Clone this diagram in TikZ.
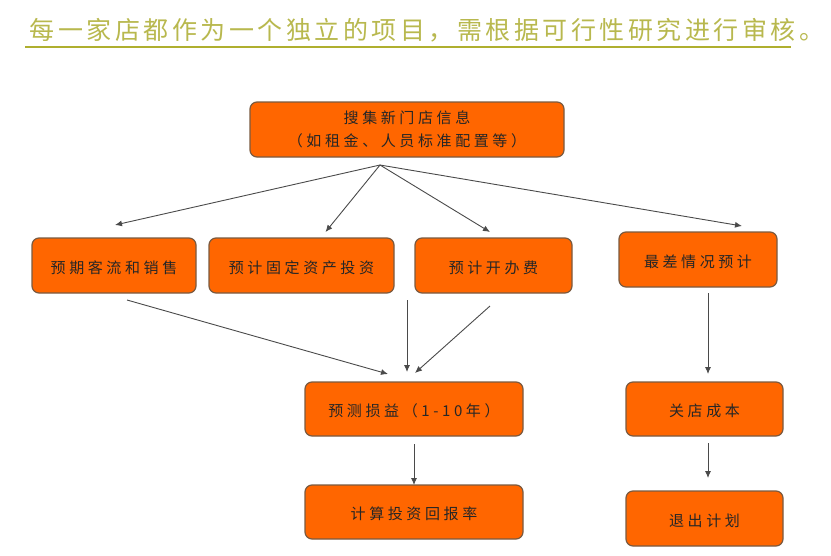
\documentclass[tikz,border=0pt]{standalone}
\usepackage{fontspec}
\setmainfont{Noto Sans CJK SC}[LetterSpace=24]
\newfontfamily\titlefont{Noto Sans CJK SC}[LetterSpace=14]
\usetikzlibrary{positioning}
\usetikzlibrary{arrows.meta}
\definecolor{boxorange}{HTML}{FF6600}
\definecolor{boxedge}{HTML}{7A5A40}
\definecolor{titleolive}{HTML}{B8B84E}
\definecolor{ruleolive}{HTML}{AFAF2F}
\definecolor{arrowgray}{HTML}{4A4A4A}

\begin{document}
\begin{tikzpicture}[
                          x=1pt, y=1pt,
                          boxnode/.style={rectangle, draw=boxedge, fill=boxorange, line width=1.2pt, rounded corners=7pt, inner sep=0pt, outer sep=0pt, minimum height=55pt, align=center, text=black!85, font=\fontsize{15}{23}\selectfont, execute at begin node=\rule{0pt}{17pt}},
                          arrowline/.style={-{Latex[length=7pt, width=6pt]}, draw=arrowgray, line width=0.9pt},
                      ]
                      \useasboundingbox (0,0) rectangle (831,-555);
                      %Title
                      \node[text=titleolive, font=\titlefont\fontsize{25}{30}\selectfont, inner sep=0pt] (title) at (427,-30) {每一家店都作为一个独立的项目，需根据可行性研究进行审核。};
                      \coordinate (rule_l) at (25,-47);
                      \coordinate (rule_r) at (791,-47);
                      \draw[ruleolive, line width=2.2pt] (rule_l) -- (rule_r);

                      %Nodes
                      \node[boxnode, minimum width=314pt] (collect) at (407,-129.5) {搜集新门店信息\\（如租金、人员标准配置等）};
                      \node[boxnode, minimum width=185pt] (fixed)   [below=81pt of collect, xshift=-105.5pt] {预计固定资产投资};
                      \node[boxnode, minimum width=164pt] (sales)   [left=13pt of fixed]                     {预期客流和销售};
                      \node[boxnode, minimum width=157pt] (opening) [right=21pt of fixed]                    {预计开办费};
                      \node[boxnode, minimum width=158pt] (worst)   [right=47pt of opening, yshift=6pt]      {最差情况预计};
                      \node[boxnode, minimum width=218pt, minimum height=54pt] (profit)  [below=89pt of opening, xshift=-79.5pt]  {预测损益（1-10年）};
                      \node[boxnode, minimum width=157pt, minimum height=54pt] (closing) [right=103pt of profit]                  {关店成本};
                      \node[boxnode, minimum width=218pt, minimum height=54pt] (return)  [below=49pt of profit]                   {计算投资回报率};
                      \node[boxnode, minimum width=157pt] (exit)    [below=55pt of closing]                  {退出计划};

                      %Free ends
                      \coordinate[below=8pt of collect.south, xshift=-27pt] (hub);
                      \coordinate[above=13pt of sales.north, xshift=1pt] (sales_in);
                      \coordinate[above=6pt of fixed.north, xshift=24pt] (fixed_in);
                      \coordinate[above=6pt of opening.north, xshift=-3.5pt] (opening_in);
                      \coordinate[above=6pt of worst.north, xshift=44pt] (worst_in);
                      \coordinate[below=7pt of sales.south, xshift=13pt] (sales_out);
                      \coordinate[below=7pt of fixed.south, xshift=105.5pt] (fixed_out);
                      \coordinate[below=13pt of opening.south, xshift=-3.5pt] (opening_out);
                      \coordinate[below=6pt of worst.south, xshift=10pt] (worst_out);
                      \coordinate[below=7pt of closing.south, xshift=3.5pt] (closing_out);
                      \coordinate[below=8pt of profit.south] (profit_out);
                      \coordinate[above=8pt of profit.north, xshift=-26pt] (profit_a);
                      \coordinate[above=10pt of profit.north, xshift=-7pt] (profit_b);
                      \coordinate[above=9pt of profit.north, xshift=1pt] (profit_c);
                      \coordinate[above=8pt of closing.north, xshift=3.5pt] (closing_in);
                      \coordinate[above=13pt of exit.north, xshift=3.5pt] (exit_in);

                      %Lines
                      \draw[arrowline] (hub) -- (sales_in);
                      \draw[arrowline] (hub) -- (fixed_in);
                      \draw[arrowline] (hub) -- (opening_in);
                      \draw[arrowline] (hub) -- (worst_in);
                      \draw[arrowline] (sales_out) -- (profit_a);
                      \draw[arrowline] (fixed_out) -- (profit_b);
                      \draw[arrowline] (opening_out) -- (profit_c);
                      \draw[arrowline] (worst_out) -- (closing_in);
                      \draw[arrowline] (profit_out) -- (return);
                      \draw[arrowline] (closing_out) -- (exit_in);
                  \end{tikzpicture}
\end{document}
